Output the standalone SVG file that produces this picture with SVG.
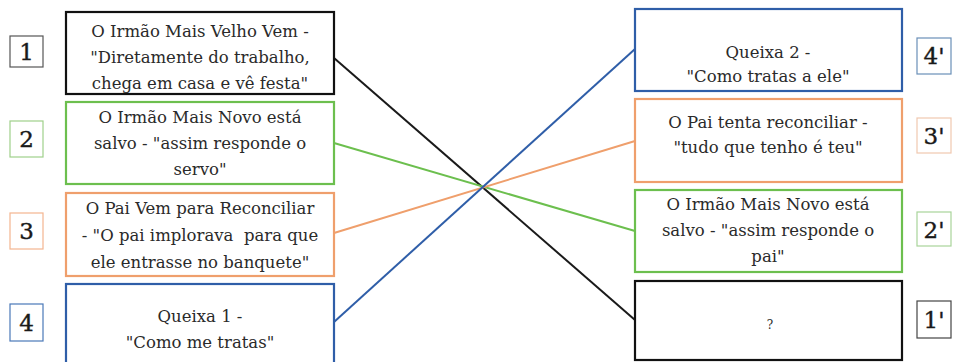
<svg xmlns="http://www.w3.org/2000/svg" width="954" height="362" viewBox="0 0 954 362">
<style>
  .bg { fill: #ffffff; }
  .box { fill: #ffffff; stroke-width: 2.2; }
  .lbl { fill: #ffffff; stroke-width: 1.2; }
  .t { font-family: "DejaVu Serif", "Liberation Serif", serif; font-size: 16.5px; fill: #2a2a2a; text-anchor: middle; }
  .n { font-family: "DejaVu Serif", "Liberation Serif", serif; font-size: 23px; fill: #1a1a1a; text-anchor: middle; stroke: #1a1a1a; stroke-width: 0.4; }
  .conn { fill: none; stroke-width: 2; }
  .k { stroke: #1a1a1a; }
  .g { stroke: #6cbf4e; }
  .o { stroke: #ef9f6c; }
  .b { stroke: #2f5ea8; }
</style>
<rect class="bg" x="0" y="0" width="954" height="362"/>

<g id="connectors">
  <line class="conn k" x1="334" y1="58" x2="635" y2="320"/>
  <line class="conn g" x1="334" y1="143" x2="635" y2="231"/>
  <line class="conn o" x1="334" y1="233" x2="635" y2="141"/>
  <line class="conn b" x1="334" y1="322" x2="635" y2="49"/>
</g>

<g id="label1"><rect class="lbl" x="10" y="36" width="33" height="31" stroke="#555555"/><text class="n" x="26.5" y="60">1</text></g>
<g id="label2"><rect class="lbl" x="10" y="121" width="33" height="36" stroke="#9fd08a"/><text class="n" x="26.5" y="147">2</text></g>
<g id="label3"><rect class="lbl" x="10" y="213" width="33" height="36" stroke="#f3b58f"/><text class="n" x="26.5" y="239">3</text></g>
<g id="label4"><rect class="lbl" x="10" y="304" width="33" height="37" stroke="#4a78b8"/><text class="n" x="26.5" y="331">4</text></g>

<g id="label4p"><rect class="lbl" x="917" y="38" width="34" height="36" stroke="#6a8fb8"/><text class="n" x="934" y="64">4'</text></g>
<g id="label3p"><rect class="lbl" x="917" y="118" width="34" height="35" stroke="#f0c8b0"/><text class="n" x="934" y="144">3'</text></g>
<g id="label2p"><rect class="lbl" x="917" y="212" width="34" height="34" stroke="#a8d49a"/><text class="n" x="934" y="238">2'</text></g>
<g id="label1p"><rect class="lbl" x="917" y="301" width="34" height="37" stroke="#444444"/><text class="n" x="934" y="328">1'</text></g>

<g id="box1">
  <rect class="box" x="66" y="12" width="268" height="82" stroke="#111111"/>
  <text class="t" x="200" y="37">O Irmão Mais Velho Vem -</text>
  <text class="t" x="200" y="63">"Diretamente do trabalho,</text>
  <text class="t" x="200" y="89">chega em casa e vê festa"</text>
</g>
<g id="box2">
  <rect class="box" x="66" y="102" width="268" height="82" stroke="#6cbf4e"/>
  <text class="t" x="200" y="123">O Irmão Mais Novo está</text>
  <text class="t" x="200" y="149">salvo - "assim responde o</text>
  <text class="t" x="200" y="175">servo"</text>
</g>
<g id="box3">
  <rect class="box" x="66" y="193" width="268" height="83" stroke="#ef9f6c"/>
  <text class="t" x="200" y="214">O Pai Vem para Reconciliar</text>
  <text class="t" x="200" y="241" xml:space="preserve">- "O pai implorava  para que</text>
  <text class="t" x="200" y="268">ele entrasse no banquete"</text>
</g>
<g id="box4">
  <rect class="box" x="66" y="284" width="268" height="100" stroke="#2f5ea8"/>
  <text class="t" x="200" y="322">Queixa 1 -</text>
  <text class="t" x="200" y="348">"Como me tratas"</text>
</g>

<g id="box4p">
  <rect class="box" x="635" y="9" width="267" height="82" stroke="#2f5ea8"/>
  <text class="t" x="768" y="58">Queixa 2 -</text>
  <text class="t" x="768" y="82">"Como tratas a ele"</text>
</g>
<g id="box3p">
  <rect class="box" x="635" y="99" width="267" height="83" stroke="#ef9f6c"/>
  <text class="t" x="768" y="128">O Pai tenta reconciliar -</text>
  <text class="t" x="768" y="153">"tudo que tenho é teu"</text>
</g>
<g id="box2p">
  <rect class="box" x="635" y="190" width="267" height="82" stroke="#6cbf4e"/>
  <text class="t" x="768" y="210">O Irmão Mais Novo está</text>
  <text class="t" x="768" y="236">salvo - "assim responde o</text>
  <text class="t" x="768" y="262">pai"</text>
</g>
<g id="box1p">
  <rect class="box" x="635" y="281" width="267" height="79" stroke="#111111"/>
  <text class="t" x="770" y="329" style="font-size:12px">?</text>
</g>
</svg>
